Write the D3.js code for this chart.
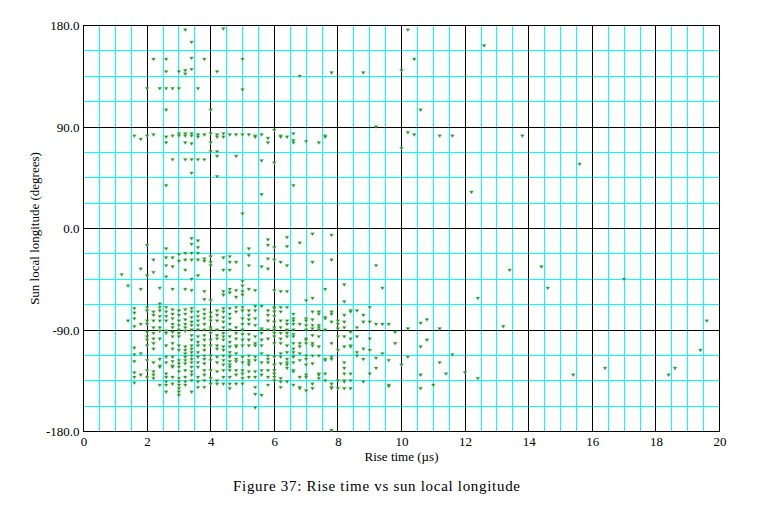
<!DOCTYPE html>
<html>
<head>
<meta charset="utf-8">
<script src="https://cdn.jsdelivr.net/npm/d3@7"></script>
<style>
  html, body { margin: 0; padding: 0; background: #ffffff; }
  svg { display: block; }
  text { font-family: "Liberation Serif", "DejaVu Serif", serif; fill: #000; }
</style>
</head>
<body>
<svg id="chart" width="759" height="520"></svg>
<script>
// ---- Data ----
const riseTimes = [
  1.2, 1.4, 1.6, 1.8, 2.0, 2.2, 2.4, 2.6, 2.8, 3.0,
  3.2, 3.4, 3.6, 3.8, 4.0, 4.2, 4.4, 4.6, 4.8, 5.0,
  5.2, 5.4, 5.6, 5.8, 6.0, 6.2, 6.4, 6.6, 6.8, 7.0,
  7.2, 7.4, 7.6, 7.8, 8.0, 8.2, 8.4, 8.6, 8.8, 9.0,
  9.2, 9.4, 9.6, 9.8, 10.0, 10.2, 10.4, 10.6, 10.8, 11.0,
  11.2, 11.4, 11.6, 12.0, 12.2, 12.4, 12.6, 13.2, 13.4, 13.8,
  14.4, 14.6, 15.4, 15.6, 16.4, 17.0, 18.4, 18.6, 19.4, 19.6
];
const longitudes = [
  [-41],
  [-51, -82],
  [82, -71, -75, -80, -87, -106, -112, -118, -128, -132, -137],
  [79, -36, -54, -85, -111, -130],
  [124, 82, -15, -42, -70, -73, -82, -85, -92, -96, -99, -104, -117, -126, -132],
  [150, 83, -28, -39, -74, -77, -82, -88, -93, -98, -102, -107, -119, -127, -130, -133],
  [124, -53, -67, -70, -73, -78, -82, -88, -91, -98, -116, -122, -123, -139],
  [150, 139, 124, 105, 81, 76, 38, -18, -26, -33, -43, -70, -74, -78, -82, -91, -93, -104, -114, -119, -129, -132, -136, -139, -145],
  [124, 82, 61, -26, -34, -54, -72, -76, -80, -85, -88, -92, -96, -102, -107, -114, -118, -122, -123, -132, -138],
  [139, 124, 84, 82, -23, -29, -73, -77, -82, -86, -90, -93, -96, -104, -108, -117, -120, -123, -127, -133, -136, -139, -142, -145, -148],
  [176, 140, 137, 84, 82, 76, 61, -22, -28, -37, -54, -72, -76, -81, -85, -88, -91, -105, -108, -111, -114, -117, -120, -126, -132, -136, -139],
  [165, 151, 141, 84, 82, 75, 61, 49, -9, -14, -22, -28, -45, -55, -71, -74, -79, -83, -86, -90, -95, -99, -104, -107, -110, -113, -116, -119, -123, -127, -130, -135, -145],
  [124, 83, 81, 61, -11, -17, -22, -28, -42, -74, -78, -82, -86, -90, -96, -101, -104, -110, -114, -119, -123, -132, -136, -141],
  [150, 83, 61, -27, -29, -56, -63, -72, -76, -80, -85, -90, -95, -99, -104, -108, -113, -116, -120, -126, -130, -135, -141],
  [105, 84, 76, 68, -25, -30, -33, -64, -75, -79, -82, -88, -90, -93, -99, -104, -113, -117, -126, -133, -138],
  [139, 83, 81, 68, 64, 46, -73, -77, -82, -90, -95, -98, -104, -107, -114, -119, -127, -135, -138],
  [177, 84, 81, -26, -37, -56, -59, -71, -74, -79, -83, -88, -93, -96, -99, -105, -108, -113, -117, -121, -126, -132, -138],
  [83, -25, -30, -37, -54, -57, -71, -76, -80, -85, -90, -96, -101, -105, -110, -113, -114, -118, -121, -123, -126, -132, -138, -142],
  [83, 64, -30, -55, -61, -70, -74, -88, -93, -98, -104, -105, -111, -116, -118, -126, -130, -138],
  [150, 123, 83, 13, -47, -51, -56, -59, -70, -73, -80, -85, -90, -94, -99, -104, -114, -119, -126, -129, -133, -138],
  [83, -18, -24, -33, -54, -73, -77, -81, -85, -94, -99, -104, -113, -117, -119, -121, -127, -132],
  [82, 81, -55, -69, -73, -80, -86, -96, -102, -104, -114, -117, -127, -132, -141, -147, -159],
  [83, 60, 30, -34, -69, -89, -90, -93, -99, -104, -111, -119, -126, -130, -148],
  [80, 76, -10, -15, -27, -36, -73, -77, -82, -90, -98, -113, -116, -119, -126, -132, -139],
  [87, 58, -17, -28, -55, -70, -71, -74, -78, -83, -88, -90, -93, -96, -102, -114, -121, -126, -129, -132, -135],
  [82, 81, -30, -56, -70, -74, -82, -88, -93, -98, -102, -111, -114, -120, -133, -136, -141],
  [81, -8, -16, -33, -56, -70, -82, -85, -90, -93, -96, -104, -110, -116, -119, -121, -124, -136],
  [84, 78, 76, 38, -76, -80, -82, -85, -90, -94, -96, -102, -107, -110, -113, -114, -119, -126, -127, -139],
  [135, -13, -85, -102, -105, -111, -117, -132, -141, -142],
  [77, -64, -80, -82, -86, -90, -98, -99, -102, -113, -116, -121, -130, -132, -144],
  [-5, -30, -62, -74, -81, -86, -89, -95, -102, -104, -113, -120, -138, -142],
  [76, -74, -76, -86, -88, -90, -96, -105, -113, -129, -130, -133],
  [82, 81, -54, -79, -80, -90, -116, -117, -129, -135],
  [138, -6, -28, -74, -76, -83, -102, -114, -116, -138, -141, -142, -179],
  [-82, -85, -89, -96, -108, -135, -142],
  [-50, -65, -77, -83, -88, -96, -105, -119, -124, -129, -135, -136, -142],
  [-73, -74, -92, -98, -104, -105, -129, -135, -142],
  [-73, -88, -96, -110, -113],
  [138, -77, -83, -107, -116, -136],
  [-70, -83, -98, -108, -129],
  [90, -33, -85, -115, -124],
  [-53, -85, -111],
  [-85, -117, -139, -140],
  [-92, -102],
  [140, 71, -121],
  [176, 85, -89, -114],
  [150, 83],
  [105, -84, -105, -130, -142],
  [-81, -99],
  [-139],
  [82, -89, -119],
  [-129],
  [82, -112],
  [-128],
  [32],
  [-62, -133],
  [162],
  [-87],
  [-37],
  [82],
  [-34],
  [-53],
  [-130],
  [57],
  [-124],
  [-45],
  [-130],
  [-124],
  [-108],
  [-82]
];
const xTickValues = [0, 2, 4, 6, 8, 10, 12, 14, 16, 18, 20];
const yTickValues = [-180, -90, 0, 90, 180];
const yTickLabels = ["-180.0", "-90.0", "0.0", "90.0", "180.0"];
const xTitle = "Rise time (\u00b5s)";
const yTitle = "Sun local longitude (degrees)";
const caption = "Figure 37: Rise time vs sun local longitude";

// ---- Layout ----
const svg = d3.select("#chart");
const pL = 83.5, pR = 719.5, pT = 25.5, pB = 431.5;

const x = d3.scaleLinear().domain([0, 20]).range([pL, pR]);
const y = d3.scaleLinear().domain([-180, 180]).range([pB, pT]);

const points = [];
riseTimes.forEach((t, i) => longitudes[i].forEach(v => points.push([t, v])));

// minor grid (cyan)
const xMinor = d3.range(0, 20.01, 0.5).filter(v => Math.abs(v % 2) > 1e-9);
const yMinor = d3.range(-180, 180.01, 22.5).filter(v => Math.abs(v % 90) > 1e-9);

const grid = svg.append("g").attr("shape-rendering", "crispEdges");
grid.selectAll("line.xm").data(xMinor).join("line")
  .attr("x1", d => x(d)).attr("x2", d => x(d))
  .attr("y1", pT).attr("y2", pB)
  .attr("stroke", "#00ffff").attr("stroke-width", 1);
grid.selectAll("line.ym").data(yMinor).join("line")
  .attr("y1", d => y(d)).attr("y2", d => y(d))
  .attr("x1", pL).attr("x2", pR)
  .attr("stroke", "#00ffff").attr("stroke-width", 1);

// major grid (black)
grid.selectAll("line.xM").data(xTickValues).join("line")
  .attr("x1", d => x(d)).attr("x2", d => x(d))
  .attr("y1", pT).attr("y2", pB)
  .attr("stroke", "#000").attr("stroke-width", 1);
grid.selectAll("line.yM").data(yTickValues).join("line")
  .attr("y1", d => y(d)).attr("y2", d => y(d))
  .attr("x1", pL).attr("x2", pR)
  .attr("stroke", "#000").attr("stroke-width", 1);

// frame
svg.append("rect")
  .attr("x", pL).attr("y", pT)
  .attr("width", pR - pL).attr("height", pB - pT)
  .attr("fill", "none").attr("stroke", "#000").attr("stroke-width", 1.2)
  .attr("shape-rendering", "crispEdges");

// axes labels via d3 axes (no tick lines)
const xAxis = d3.axisBottom(x).tickValues(xTickValues).tickSize(0).tickPadding(5)
  .tickFormat(d3.format("d"));
const gx = svg.append("g").attr("transform", `translate(0,${pB})`).call(xAxis);
gx.select(".domain").remove();
gx.selectAll("text").attr("font-family", "Liberation Serif, serif").attr("font-size", 13).attr("fill", "#000");

const yAxis = d3.axisLeft(y).tickValues(yTickValues).tickSize(0).tickPadding(4)
  .tickFormat((d, i) => yTickLabels[i]);
const gy = svg.append("g").attr("transform", `translate(${pL},0)`).call(yAxis);
gy.select(".domain").remove();
gy.selectAll("text").attr("font-family", "Liberation Serif, serif").attr("font-size", 13).attr("fill", "#000");

// points: small downward triangles
const tri = "M-1.9,-1.3L1.9,-1.3L0,1.6Z";
svg.append("g").selectAll("path").data(points).join("path")
  .attr("d", tri)
  .attr("transform", d => `translate(${x(d[0])},${y(d[1])})`)
  .attr("fill", "#138a13")
  .attr("stroke", "#7cc47c").attr("stroke-width", 0.5);

// titles
svg.append("text").attr("x", (pL + pR) / 2).attr("y", 461)
  .attr("text-anchor", "middle").attr("font-size", 13).text(xTitle);
svg.append("text").attr("transform", `translate(39,${(pT + pB) / 2}) rotate(-90)`)
  .attr("text-anchor", "middle").attr("font-size", 13).text(yTitle);
svg.append("text").attr("x", 376.5).attr("y", 491)
  .attr("text-anchor", "middle").attr("font-size", 15)
  .attr("textLength", 287).attr("lengthAdjust", "spacing").text(caption);
</script>
</body>
</html>
